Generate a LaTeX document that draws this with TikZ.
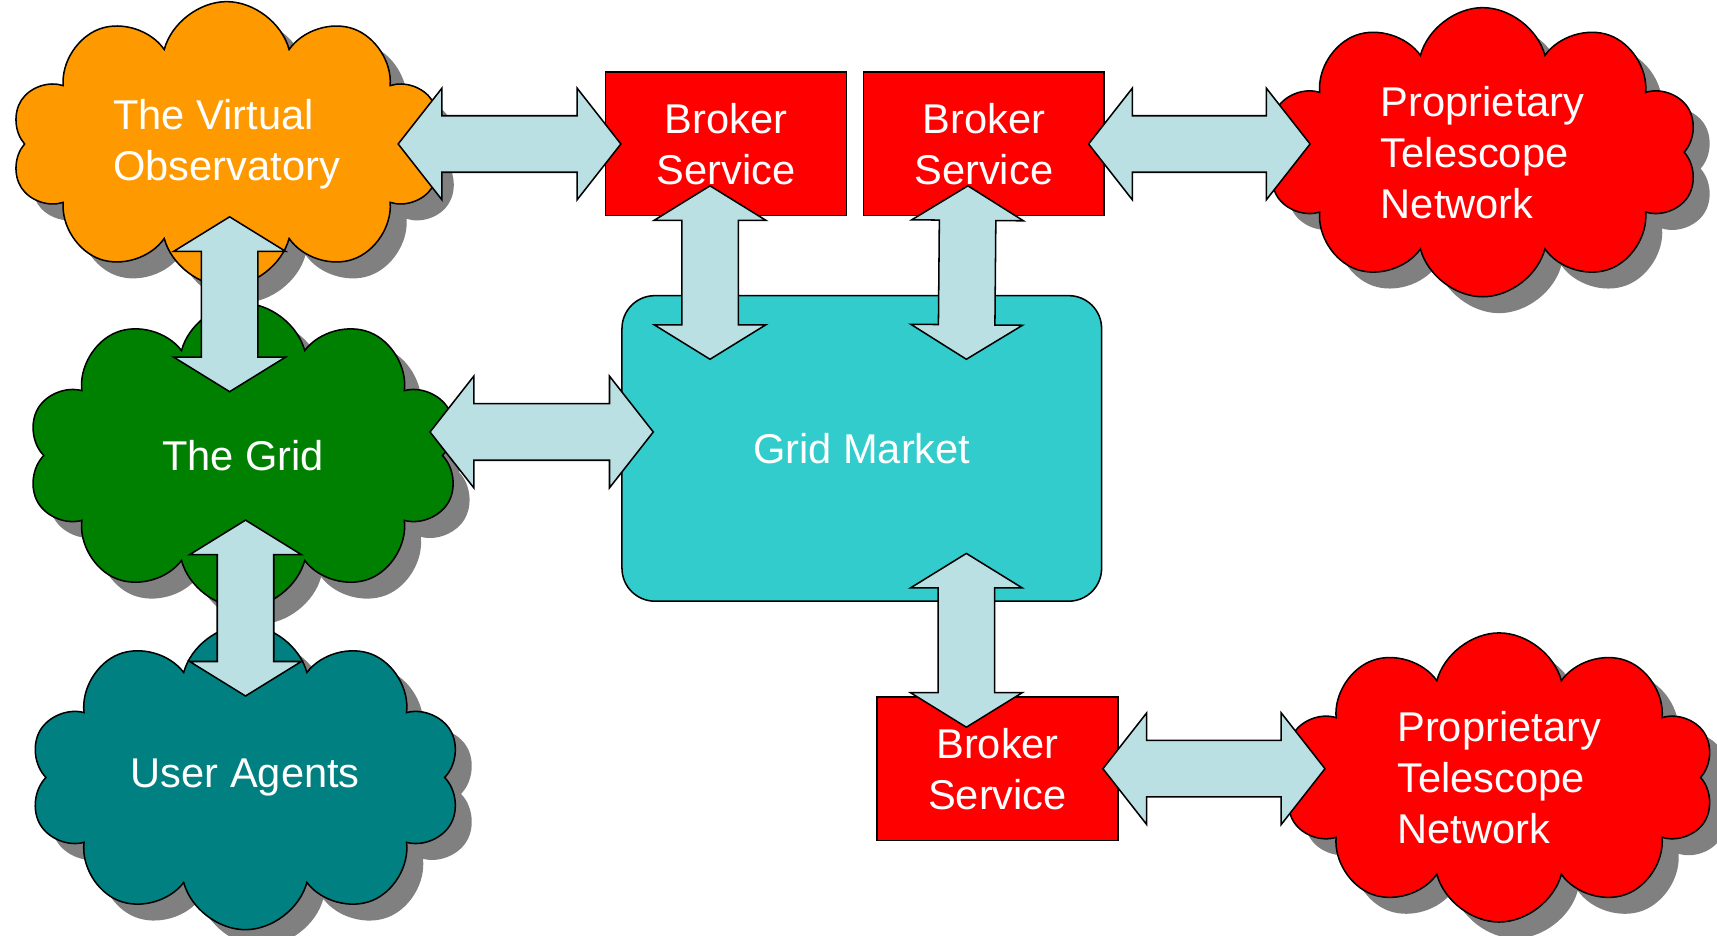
\documentclass[tikz,border=0pt]{standalone}
\usepackage{fontspec}
\setmainfont{Liberation Sans}
\usepackage{tikz}
\usetikzlibrary{shapes.symbols,shadows,calc,positioning}

\definecolor{voorange}{HTML}{FF9900}
\definecolor{gridgreen}{HTML}{008000}
\definecolor{agentteal}{HTML}{008080}
\definecolor{marketcyan}{HTML}{33CCCC}
\definecolor{arrowblue}{HTML}{BBE0E3}
\definecolor{shadowgray}{HTML}{808080}

\begin{document}
\begin{tikzpicture}[
x=0.5pt, y=-0.5pt,
every node/.style={text=white, font=\fontsize{19pt}{23.3pt}\selectfont},
blob/.style={cloud, cloud puffs=10, cloud ignores aspect, draw=black, line width=0.7pt, inner sep=0pt,
  minimum width=197pt, minimum height=132pt, align=left,
  drop shadow={shadow xshift=7.5pt, shadow yshift=-7.5pt, fill=shadowgray, opacity=1}},
svc/.style={rectangle, draw=black, fill=red, line width=0.7pt, inner sep=0pt,
  minimum width=110pt, minimum height=65.5pt, align=center},
marketbox/.style={rectangle, rounded corners=15pt, draw=black, fill=marketcyan, line width=0.7pt,
  minimum width=219pt, minimum height=139.5pt},
tiplen/.store in=\tiplen, tiplen=20pt,
fat arrow/.style={draw=black, fill=arrowblue, line width=0.7pt, line join=miter,
  to path={let \p1=($(\tikztostart)!\tiplen!(\tikztotarget)$),
               \p2=($(\tikztotarget)!\tiplen!(\tikztostart)$) in
    -- ($(\p1)!25.5pt!90:(\tikztotarget)$) -- ($(\p1)!12.9pt!90:(\tikztotarget)$)
    -- ($(\p2)!12.9pt!-90:(\tikztostart)$) -- ($(\p2)!25.5pt!-90:(\tikztostart)$)
    -- (\tikztotarget)
    -- ($(\p2)!25.5pt!90:(\tikztostart)$) -- ($(\p2)!12.9pt!90:(\tikztostart)$)
    -- ($(\p1)!12.9pt!-90:(\tikztotarget)$) -- ($(\p1)!25.5pt!-90:(\tikztotarget)$)
    -- cycle}},
]
\useasboundingbox (0,0) rectangle (1568,854);

%Nodes
\node[blob, fill=voorange, minimum height=130pt] (vo)     at (207,131.5)  {The Virtual\\Observatory};
\node[blob, fill=gridgreen, minimum height=139pt] (grid)  at (222,416)    {The Grid};
\node[blob, fill=agentteal, minimum height=139pt] (agents) at (224,710)   {User Agents};
\node[blob, fill=red]                            (net1)   at (1354,139)   {Proprietary\\Telescope\\Network};
\node[blob, fill=red]                            (net2)   at (1369,710)   {Proprietary\\Telescope\\Network};

\node[svc]   (broker1)                         at (663,131.5) {Broker\\Service};
\node[svc]   (broker2) [right=7pt of broker1]                 {Broker\\Service};
\node[svc]   (broker3)                         at (911,702)   {Broker\\Service};
\node[marketbox] (market)                      at (787,409.5) {Grid Market};

%Lines
\draw[fat arrow] ([shift={(156.6,0)}]vo.center) to ([shift={(14.7,0)}]broker1.west);
\draw[fat arrow] ([shift={(-15,0)}]broker2.east) to ([shift={(-157.6,-7.5)}]net1.center);
\draw[fat arrow] ([shift={(170.7,-21.5)}]grid.center) to ([shift={(29.3,-15)}]market.west);
\draw[fat arrow] ([shift={(-14.5,0)}]broker3.east) to ([shift={(-159,-8)}]net2.center);

\draw[fat arrow, tiplen=15.75pt] ([shift={(2.7,66.5)}]vo.center) to ([shift={(-12.3,-58.3)}]grid.center);
\draw[fat arrow, tiplen=15.75pt] ([shift={(2.2,59)}]grid.center) to ([shift={(0.2,-74.4)}]agents.center);
\draw[fat arrow, tiplen=15.75pt] ([shift={(-14.6,-28)}]broker1.south) to ([shift={(-138.6,58.8)}]market.north);
\draw[fat arrow, tiplen=15.75pt] ([shift={(-14.5,-28)}]broker2.south) to ([shift={(95.5,58.8)}]market.north);
\draw[fat arrow, tiplen=15.75pt] ([shift={(95.5,-44.3)}]market.south) to ([shift={(-28.5,28.3)}]broker3.north);
\end{tikzpicture}
\end{document}
